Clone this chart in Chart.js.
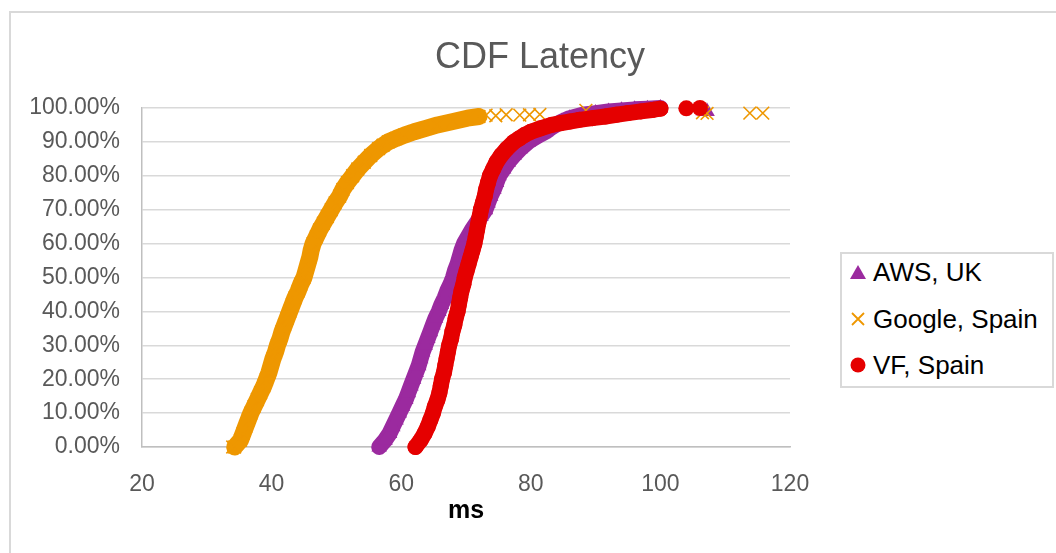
<!DOCTYPE html>
<html>
<head>
<meta charset="utf-8">
<script src="https://cdn.jsdelivr.net/npm/chart.js@4/dist/chart.umd.min.js"></script>
<style>
  html, body { margin: 0; padding: 0; background: #fff; overflow: hidden; }
  body { width: 1056px; height: 553px; position: relative; font-family: "Liberation Sans", Arial, sans-serif; }
  #frame { position: absolute; left: 9px; top: 11px; width: 1200px; height: 700px; border: 2px solid #d9d9d9; }
  #wrap { position: absolute; left: 0; top: 0; width: 1056px; height: 553px; }
  #title { position: absolute; left: 290px; width: 500px; top: 34px; height: 44px; line-height: 44px;
           text-align: center; font-size: 36px; color: #595959; }
  #legend { position: absolute; left: 840px; top: 252px; width: 210px; height: 132px; border: 2px solid #d9d9d9; background: #fff; }
  .row { position: absolute; left: 0; height: 30px; line-height: 30px; font-size: 26px; color: #000; white-space: nowrap; }
  .row svg { position: absolute; left: 7px; top: 7px; }
  .row span { position: absolute; left: 31px; }
</style>
</head>
<body>
<div id="frame"></div>
<div id="wrap"><canvas id="chart-0" width="1056" height="553"></canvas></div>
<div id="title">CDF Latency</div>
<div id="legend"></div>
<script>
// series names + colours
var seriesNames = ['AWS, UK', 'Google, Spain', 'VF, Spain'];
var seriesColors = ['#9b2a9f', '#ee9700', '#e50000'];

// y axis ticks (percent) and x axis ticks (ms)
var pctTicks = [0, 10, 20, 30, 40, 50, 60, 70, 80, 90, 100];
var msTicks = [20, 40, 60, 80, 100, 120];

// AWS, UK - cumulative percent vs latency
var awsPct = [0, 2, 4, 6, 8, 10, 12, 14, 16, 18, 20, 22, 24, 26, 28, 30, 32, 34, 36, 38, 40, 42, 44, 46, 48, 50,
  52, 54, 56, 58, 60, 62, 64, 66, 68, 70, 72, 74, 76, 78, 80, 82, 84, 86, 88, 90, 91, 92, 93, 94, 95, 96, 97, 98,
  98.5, 99, 99.3, 99.6, 99.8, 100];
var awsMs = [56.6, 57.5, 58.2, 58.7, 59.2, 59.7, 60.2, 60.7, 61.1, 61.5, 61.9, 62.3, 62.7, 63.0, 63.3, 63.7, 64.1,
  64.5, 64.9, 65.3, 65.8, 66.2, 66.7, 67.1, 67.6, 68.0, 68.3, 68.7, 69.0, 69.3, 69.7, 70.3, 70.9, 71.6, 72.3, 73.0,
  73.4, 73.8, 74.3, 74.7, 75.1, 75.8, 76.5, 77.4, 78.4, 79.6, 80.4, 81.3, 82.3, 83.0, 83.8, 84.8, 86.0, 88.0, 90.0,
  92.0, 94.0, 96.0, 98.0, 100.0];
var awsOutPct = [99.2, 99.0];
var awsOutMs = [106.6, 107.2];

// Google, Spain
var googlePct = [0, 2, 4, 6, 8, 10, 12, 14, 16, 18, 20, 22, 24, 26, 28, 30, 32, 34, 36, 38, 40, 42, 44, 46, 48, 50,
  52, 54, 56, 58, 60, 62, 64, 66, 68, 70, 72, 74, 76, 78, 80, 82, 84, 86, 88, 89, 90, 91, 92, 93, 94, 95, 96, 97, 97.5];
var googleMs = [34.3, 35.2, 35.6, 36.0, 36.4, 36.8, 37.3, 37.8, 38.3, 38.8, 39.2, 39.6, 39.9, 40.2, 40.6, 40.9, 41.3,
  41.6, 42.0, 42.4, 42.8, 43.2, 43.6, 44.1, 44.5, 45.0, 45.3, 45.6, 45.9, 46.1, 46.4, 46.9, 47.4, 48.0, 48.6, 49.2,
  49.8, 50.5, 51.0, 51.7, 52.5, 53.3, 54.3, 55.3, 56.5, 57.2, 58.0, 59.2, 60.5, 62.0, 63.8, 65.6, 68.0, 70.2, 72.0];
var googleOutPct = [0, 97.9, 97.7, 98.0, 97.9, 98.0, 98.1, 99.3, 98.6, 98.4, 98.5, 98.5];
var googleOutMs = [34.0, 73.1, 74.6, 76.2, 78.3, 79.8, 81.4, 88.5, 106.5, 107.2, 113.8, 115.8];

// VF, Spain
var vfPct = [0, 2, 4, 6, 8, 10, 12, 14, 16, 18, 20, 22, 24, 26, 28, 30, 32, 34, 36, 38, 40, 42, 44, 46, 48, 50,
  52, 54, 56, 58, 60, 62, 64, 66, 68, 70, 72, 74, 76, 78, 80, 82, 84, 86, 88, 90, 91, 92, 93, 94, 95, 95.5, 96, 96.5,
  97, 97.5, 98, 98.5, 99, 99.5, 99.8];
var vfMs = [62.2, 63.0, 63.6, 64.1, 64.5, 64.9, 65.2, 65.6, 65.9, 66.1, 66.3, 66.6, 66.8, 67.0, 67.2, 67.4, 67.7,
  67.9, 68.2, 68.4, 68.7, 68.9, 69.1, 69.3, 69.6, 69.8, 70.1, 70.4, 70.7, 71.0, 71.3, 71.5, 71.7, 71.9, 72.1, 72.3,
  72.6, 72.9, 73.1, 73.4, 73.7, 74.2, 74.7, 75.4, 76.3, 77.4, 78.2, 79.0, 80.0, 81.5, 83.2, 84.5, 86.0, 87.5, 89.5,
  91.5, 93.2, 95.0, 97.0, 99.0, 100.0];
var vfOutPct = [99.9, 100];
var vfOutMs = [104.0, 106.1];

document.addEventListener("DOMContentLoaded", function() {

  function pts(ms, pct) { // pair up the two arrays into {x, y}
    return ms.map(function(v, i) { return { x: v, y: pct[i] }; });
  }

  // thick line under the markers so the dense cloud reads as a solid band
  function band(ms, pct, color, w) {
    return {
      data: pts(ms, pct), showLine: true, borderColor: color, borderWidth: w,
      borderCapStyle: 'round', borderJoinStyle: 'round', pointRadius: 0, fill: false, clip: false
    };
  }

  function marks(ms, pct, color, style, r) {
    var cross = style === 'crossRot';
    return {
      data: pts(ms, pct), pointStyle: style, pointRadius: r,
      backgroundColor: color, borderColor: color, borderWidth: cross ? 1.6 : 0,
      showLine: false, clip: false
    };
  }

  // dataset 0 is painted last, so VF sits on top as in the original
  var datasets = [
    marks(vfMs.concat(vfOutMs), vfPct.concat(vfOutPct), seriesColors[2], 'circle', 8),
    band(vfMs, vfPct, seriesColors[2], 16),
    marks(googleMs.concat(googleOutMs), googlePct.concat(googleOutPct), seriesColors[1], 'crossRot', 9),
    band(googleMs, googlePct, seriesColors[1], 17),
    marks(awsMs.concat(awsOutMs), awsPct.concat(awsOutPct), seriesColors[0], 'triangle', 9),
    band(awsMs, awsPct, seriesColors[0], 16)
  ];

  var tickFont = { family: 'Liberation Sans', size: 23 };

  new Chart(document.getElementById('chart-0'), {
    type: 'scatter',
    data: { datasets: datasets },
    options: {
      responsive: false,
      animation: false,
      events: [],
      layout: { padding: { left: 0, top: 108, right: 266, bottom: 0 } },
      plugins: { legend: { display: false }, title: { display: false }, tooltip: { enabled: false } },
      scales: {
        x: {
          type: 'linear', min: msTicks[0], max: msTicks[msTicks.length - 1],
          afterBuildTicks: function(s) { s.ticks = msTicks.map(function(v) { return { value: v }; }); },
          afterFit: function(s) { s.height = 106; s.paddingLeft = 0; s.paddingRight = 0; },
          grid: { display: false },
          border: { display: true, color: '#bfbfbf', width: 1.5 },
          ticks: { font: tickFont, color: '#595959', padding: 16, maxRotation: 0 },
          title: {
            display: true, text: 'ms', color: '#000',
            font: { family: 'Liberation Sans', size: 25, weight: 'bold' },
            padding: { top: 27, bottom: 27 }
          }
        },
        y: {
          type: 'linear', min: pctTicks[0], max: pctTicks[pctTicks.length - 1],
          afterBuildTicks: function(s) { s.ticks = pctTicks.map(function(v) { return { value: v }; }); },
          afterFit: function(s) { s.width = 142; s.paddingTop = 0; s.paddingBottom = 0; },
          grid: { color: '#d9d9d9', lineWidth: 1.5, drawTicks: false },
          border: { display: true, color: '#bfbfbf', width: 1.5 },
          ticks: {
            font: tickFont, color: '#595959', padding: 22,
            callback: function(v) { return v.toFixed(2) + '%'; }
          }
        }
      }
    }
  });

  // html legend, boxed like the original
  var shapes = [
    '<svg width="18" height="16"><polygon points="9,1 17,15 1,15" fill="' + seriesColors[0] + '"/></svg>',
    '<svg width="18" height="16"><path d="M3,2 L15,14 M15,2 L3,14" stroke="' + seriesColors[1] + '" stroke-width="1.8"/></svg>',
    '<svg width="18" height="16"><circle cx="9" cy="8" r="7.5" fill="' + seriesColors[2] + '"/></svg>'
  ];
  var rowTops = [3, 50, 96];
  var legend = document.getElementById('legend');
  seriesNames.forEach(function(name, i) {
    var row = document.createElement('div');
    row.className = 'row';
    row.style.top = rowTops[i] + 'px';
    row.innerHTML = shapes[i] + '<span>' + name + '</span>';
    legend.appendChild(row);
  });
});
</script>
</body>
</html>
